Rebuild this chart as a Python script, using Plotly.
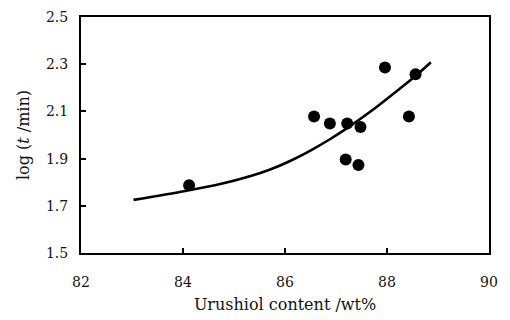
import plotly.graph_objects as go

# Measured data points
urushiol = [84.12, 86.57, 86.88, 87.22, 87.48, 87.19, 87.44, 87.96, 88.56, 88.43]
log_t = [1.787, 2.078, 2.049, 2.049, 2.034, 1.896, 1.873, 2.286, 2.257, 2.078]

# Fitted curve
curve_x = [83.03, 84.07, 84.73, 85.31, 85.71, 86.10, 86.49, 86.88, 87.21, 87.73, 88.12, 88.57, 88.86]
curve_y = [1.725, 1.764, 1.792, 1.825, 1.854, 1.890, 1.933, 1.982, 2.028, 2.108, 2.174, 2.252, 2.308]

x_ticks = [82, 84, 86, 88, 90]
y_ticks = [1.5, 1.7, 1.9, 2.1, 2.3, 2.5]

font_family = "DejaVu Serif, Liberation Serif, serif"

fig = go.Figure()
fig.add_trace(go.Scatter(
    x=curve_x, y=curve_y, mode="lines",
    line=dict(color="black", width=2.6, shape="spline", smoothing=1.0),
    showlegend=False, hoverinfo="skip"))
fig.add_trace(go.Scatter(
    x=urushiol, y=log_t, mode="markers",
    marker=dict(color="black", size=12),
    showlegend=False))

axis_common = dict(
    showgrid=False, zeroline=False, showline=True, linecolor="black",
    linewidth=2, mirror=True, ticks="inside", ticklen=5, tickwidth=1.5,
    tickcolor="black", automargin=False, ticklabeloverflow="allow",
    tickfont=dict(family=font_family, size=14, color="#111"),
)

# page body has an 8px margin, so the figure is 8px smaller on each axis
fig.update_layout(
    width=502, height=312,
    margin=dict(l=73, r=21, t=9, b=67),
    paper_bgcolor="white", plot_bgcolor="white",
    xaxis=dict(range=[82, 90], tickvals=x_ticks,
               ticktext=[str(v) for v in x_ticks],
               ticklabelstandoff=15,
               title=dict(text="Urushiol content /wt%",
                          font=dict(family=font_family, size=16, color="#111"),
                          standoff=10),
               **axis_common),
    yaxis=dict(range=[1.5, 2.5], tickvals=y_ticks,
               ticktext=[f"{v:.1f}" for v in y_ticks],
               ticklabelstandoff=8,
               title=dict(text="log (<i>t</i> /min)",
                          font=dict(family=font_family, size=16, color="#111"),
                          standoff=12),
               **axis_common),
)

fig.write_html("out.html")
